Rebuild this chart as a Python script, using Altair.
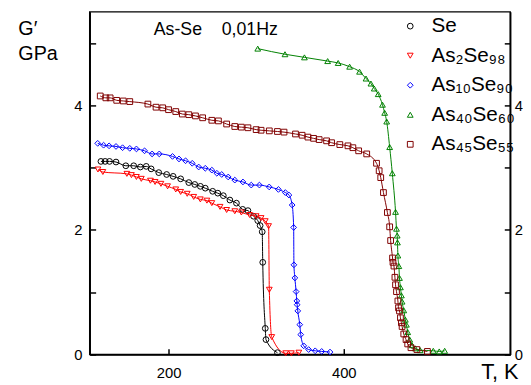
import altair as alt
import pandas as pd

series_names = ["Se", "As₂Se₉₈", "As₁₀Se₉₀", "As₄₀Se₆₀", "As₄₅Se₅₅"]
series_colors = ["#000000", "#ff0000", "#0000ff", "#008000", "#800000"]
series_shapes = ["circle", "triangle-down", "diamond", "triangle-up", "square"]

T_se = [122.8, 127.6, 132.6, 140.0, 151.2, 160.2, 167.8, 174.5, 180.1, 188.8, 197.8, 205.2,
        213.8, 223.1, 229.9, 236.3, 241.9, 250.3, 256.2, 262.5, 270.0, 277.5, 284.6, 290.6,
        297.0, 301.8, 304.5, 306.9, 307.5, 310.4, 311.2, 324.3]
G_se = [3.10, 3.10, 3.10, 3.09, 3.03, 3.03, 3.01, 3.02, 2.98, 2.92, 2.89, 2.86,
        2.82, 2.76, 2.73, 2.70, 2.67, 2.62, 2.59, 2.55, 2.48, 2.43, 2.33, 2.31,
        2.22, 2.15, 2.07, 1.97, 1.48, 0.42, 0.24, 0.03]

T_as2 = [119.4, 125.0, 152.4, 157.6, 163.3, 168.9, 179.3, 184.6, 191.3, 198.9, 208.2, 213.8,
         221.3, 228.7, 236.3, 243.8, 249.4, 258.8, 266.3, 275.6, 283.1, 292.5, 300.0, 305.6,
         310.4, 314.2, 315.0, 317.8, 333.7, 340.2, 348.7]
G_as2 = [2.97, 2.93, 2.90, 2.88, 2.85, 2.82, 2.79, 2.77, 2.74, 2.70, 2.65, 2.61,
         2.58, 2.53, 2.49, 2.47, 2.43, 2.37, 2.32, 2.30, 2.28, 2.24, 2.22, 2.19,
         2.14, 2.06, 1.04, 0.28, 0.02, 0.02, 0.03]

T_as10 = [119.1, 125.8, 132.1, 140.0, 147.5, 155.7, 163.3, 172.6, 181.2, 189.4, 204.5, 211.9,
          219.4, 227.0, 234.4, 241.9, 249.4, 255.1, 260.7, 268.1, 275.6, 284.9, 294.4, 303.7,
          314.9, 325.4, 333.3, 337.4, 341.1, 342.8, 343.1, 344.2, 345.6, 346.4, 346.8, 347.5,
          349.8, 350.9, 354.3, 359.9, 367.4, 374.8, 384.3]
G_as10 = [3.39, 3.36, 3.35, 3.34, 3.32, 3.31, 3.30, 3.27, 3.22, 3.22, 3.18, 3.14,
          3.11, 3.07, 3.01, 2.99, 2.96, 2.91, 2.89, 2.85, 2.80, 2.77, 2.72, 2.72,
          2.69, 2.65, 2.60, 2.56, 2.40, 2.04, 1.44, 1.23, 1.01, 0.86, 0.80, 0.70,
          0.48, 0.32, 0.14, 0.08, 0.06, 0.05, 0.04]

T_as40 = [301.8, 332.9, 355.1, 381.6, 393.6, 406.7, 418.0, 425.4, 431.0, 434.8, 439.3, 444.2,
          446.7, 449.0, 452.4, 455.4, 459.1, 460.2, 461.0, 461.3, 461.8, 462.9, 463.6, 464.7,
          465.8, 466.6, 468.5, 470.3, 471.5, 473.0, 475.3, 477.9, 481.6, 487.2, 502.2, 509.0,
          515.2]
G_as40 = [4.91, 4.82, 4.77, 4.71, 4.68, 4.62, 4.54, 4.43, 4.35, 4.27, 4.18, 4.01,
          3.88, 3.74, 3.33, 2.91, 2.29, 2.02, 1.91, 1.80, 1.59, 1.42, 1.23, 1.08,
          0.95, 0.85, 0.71, 0.56, 0.48, 0.36, 0.24, 0.15, 0.10, 0.07, 0.06, 0.05,
          0.06]

T_as45 = [122.0, 128.4, 133.3, 140.8, 148.3, 155.7, 176.4, 185.7, 193.3, 200.0, 208.2, 215.7,
          223.1, 230.7, 238.9, 249.4, 256.9, 266.3, 275.6, 283.1, 290.6, 300.0, 305.6, 315.0,
          324.3, 331.8, 344.9, 352.4, 359.1, 365.5, 371.9, 380.4, 386.1, 395.5, 404.8, 410.4,
          417.0, 426.2, 437.4, 440.4, 442.2, 445.3, 449.8, 452.4, 453.5, 455.7, 456.2, 457.3,
          458.4, 459.1, 460.2, 461.8, 462.5, 463.6, 464.7, 465.8, 466.6, 468.5, 471.1, 473.0,
          476.7, 483.5, 495.5]
G_as45 = [4.15, 4.12, 4.12, 4.08, 4.07, 4.06, 4.02, 3.97, 3.96, 3.93, 3.90, 3.86,
          3.85, 3.83, 3.80, 3.76, 3.75, 3.70, 3.66, 3.65, 3.64, 3.61, 3.60, 3.59,
          3.58, 3.57, 3.54, 3.52, 3.49, 3.47, 3.45, 3.43, 3.40, 3.37, 3.35, 3.32,
          3.27, 3.22, 3.07, 2.95, 2.84, 2.60, 2.28, 2.05, 1.83, 1.55, 1.48, 1.42,
          1.24, 1.12, 1.01, 0.86, 0.75, 0.70, 0.59, 0.51, 0.45, 0.33, 0.24, 0.17,
          0.11, 0.08, 0.05]

x_ticks = [200, 400]
y_ticks = [0, 1, 2, 3, 4, 5]
annotation = ["As-Se\u00a0\u00a0\u00a0\u00a00,01Hz"]

FONT = "Liberation Sans, Arial, sans-serif"

rows = []
for name, Ts, Gs in zip(series_names,
                        [T_se, T_as2, T_as10, T_as40, T_as45],
                        [G_se, G_as2, G_as10, G_as40, G_as45]):
    for t, g in zip(Ts, Gs):
        rows.append({"series": name, "T": t, "G": g})
df = pd.DataFrame(rows)

legend = alt.Legend(title=None, orient="none", legendX=315, legendY=4,
                    labelFontSize=21, labelFont=FONT, labelColor="black",
                    symbolSize=34, symbolStrokeWidth=1, rowPadding=8,
                    labelOffset=11, padding=0)

color = alt.Color("series:N", sort=series_names,
                  scale=alt.Scale(domain=series_names, range=series_colors),
                  legend=legend)
shape = alt.Shape("series:N", sort=series_names,
                  scale=alt.Scale(domain=series_names, range=series_shapes),
                  legend=legend)

x_enc = alt.X("T:Q", scale=alt.Scale(domain=[110, 590], nice=False, zero=False),
              axis=alt.Axis(values=x_ticks, title="T, K", titleAngle=0,
                            titleAlign="left", titleBaseline="alphabetic",
                            titleX=397, titleY=24, titleFontSize=22,
                            titleFontWeight="normal", titleFont=FONT,
                            tickSize={"expr": "-6"}, labelPadding=17))

ylabel = "datum.value % 2 === 0 ? datum.label : ''"
y_left = alt.Y("G:Q", scale=alt.Scale(domain=[0, 5.5], nice=False, zero=True),
               axis=alt.Axis(orient="left", values=y_ticks, labelExpr=ylabel,
                             title=["G′", "GPa"], titleAngle=0, titleAlign="left",
                             titleBaseline="alphabetic", titleX=-73, titleY=23,
                             titleFontSize=20, titleFontWeight="normal",
                             titleFont=FONT, titleLineHeight=25,
                             tickSize={"expr": "-6"}, labelPadding=14))
y_right = alt.Y("G:Q", scale=alt.Scale(domain=[0, 5.5], nice=False, zero=True),
                axis=alt.Axis(orient="right", values=y_ticks, labelExpr=ylabel,
                              title=None, tickSize={"expr": "-6"}, labelPadding=10))

lines = alt.Chart(df).mark_line(strokeWidth=1, interpolate="monotone").encode(
    x=x_enc, y=y_left, color=color, detail="series:N", order="T:Q")

points = alt.Chart(df).mark_point(filled=False, size=34, strokeWidth=1, opacity=1).encode(
    x=x_enc, y=y_right, color=color, shape=shape)

text = alt.Chart(pd.DataFrame({"label": annotation})).mark_text(
    align="left", baseline="alphabetic", fontSize=18, font=FONT, color="black"
).encode(x=alt.value(65), y=alt.value(23), text="label:N")

chart = alt.layer(lines, points, text).resolve_scale(y="independent").properties(
    width=427, height=348,
    autosize=alt.AutoSizeParams(type="none"),
    padding={"left": 83, "top": 1, "right": 13, "bottom": 28},
).configure_view(stroke="black", strokeWidth=1.5).configure_axis(
    grid=False, domainColor="black", domainWidth=1.5, tickColor="black",
    tickWidth=1.5, labelColor="black", labelFont=FONT, labelFontSize=15,
    titleColor="black"
)

chart.save("out.html", embed_options={"renderer": "svg", "actions": False})
